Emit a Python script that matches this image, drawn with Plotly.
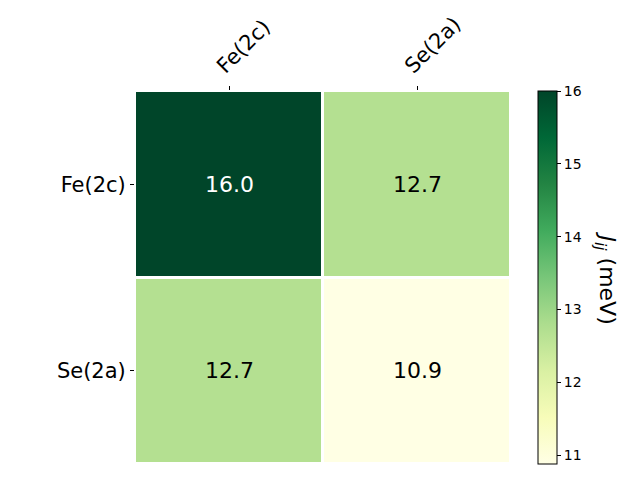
import plotly.graph_objects as go

sites = ["Fe(2c)", "Se(2a)"]
J_values = [[16.0, 12.7],
            [12.7, 10.9]]
cbar_ticks = [11, 12, 13, 14, 15, 16]

font = "DejaVu Sans"
L, R, T, B = 135, 129, 89, 16
W = 640 - L - R
zmin, zmax = 10.88, 16.0

fig = go.Figure(go.Heatmap(
    z=J_values, x=sites, y=sites,
    colorscale="YlGn", zmin=zmin, zmax=zmax,
    xgap=3, ygap=3,
    hoverinfo="skip",
    colorbar=dict(
        x=(538 - L) / W, xanchor="left", xpad=0, ypad=0,
        y=0.5, yanchor="middle", len=1.0, lenmode="fraction",
        thickness=19, outlinewidth=1, outlinecolor="black",
        tickvals=cbar_ticks, ticks="outside", ticklen=4, tickwidth=1,
        tickcolor="black",
        tickfont=dict(family=font, size=14, color="black"),
    ),
))

for i, ysite in enumerate(sites):
    for j, xsite in enumerate(sites):
        v = J_values[i][j]
        color = "white" if v > (zmin + zmax) / 2 + 1.5 else "black"
        fig.add_annotation(x=xsite, y=ysite, text=f"{v:.1f}", showarrow=False,
                           font=dict(family=font, size=22, color=color))

fig.add_annotation(
    text="<i>J</i><sub><i>ij</i></sub> (meV)", textangle=90,
    xref="paper", yref="paper", x=(605 - L) / W, y=0.5,
    xanchor="center", yanchor="middle", showarrow=False,
    font=dict(family=font, size=22, color="black"),
)

fig.update_xaxes(side="top", tickangle=-45, ticks="outside", ticklen=4,
                 ticklabelshift=-11,
                 tickcolor="black", showgrid=False, showline=False, zeroline=False,
                 tickfont=dict(family=font, size=21, color="black"))
fig.update_yaxes(autorange="reversed", ticks="outside", ticklen=4,
                 tickcolor="black", showgrid=False, showline=False, zeroline=False,
                 tickfont=dict(family=font, size=21, color="black"))

fig.update_layout(
    width=640, height=480,
    margin=dict(l=L, r=R, t=T, b=B),
    paper_bgcolor="white", plot_bgcolor="white",
    font=dict(family=font, color="black"),
)

fig.write_html("out.html")
